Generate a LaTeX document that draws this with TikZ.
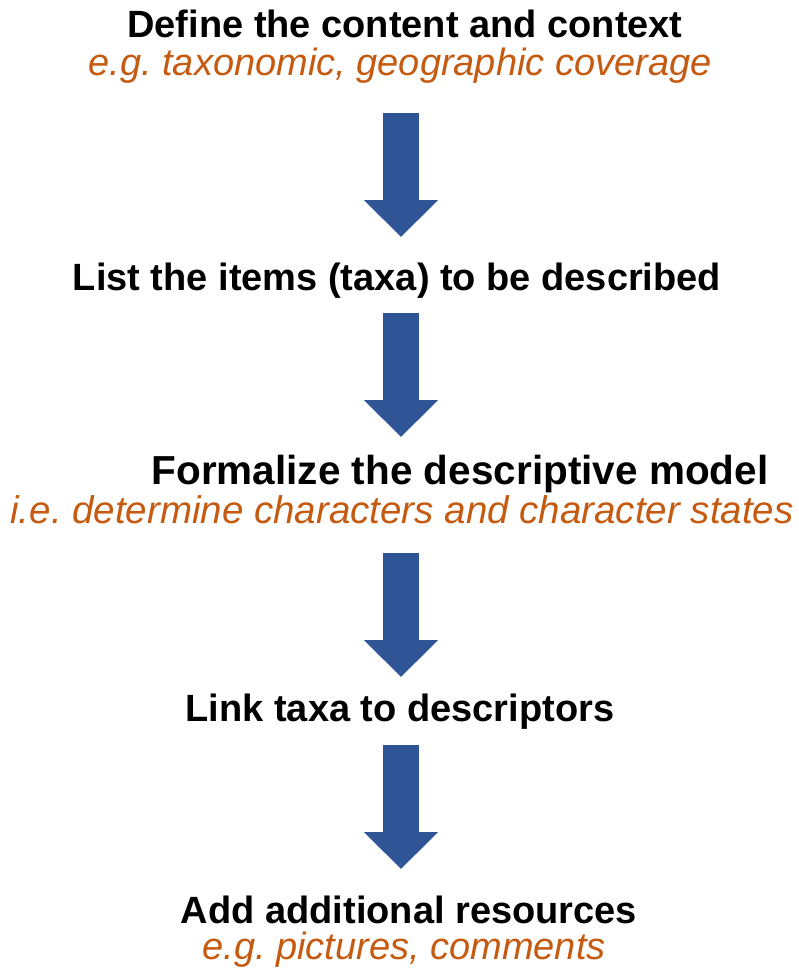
\documentclass[tikz,border=0pt]{standalone}
\usepackage{fontspec}
\setmainfont{Liberation Sans}
\usetikzlibrary{arrows.meta}
\definecolor{arrowblue}{RGB}{47,85,151}
\definecolor{noteorange}{RGB}{197,90,17}
\frenchspacing
\tikzset{
    steptext/.style={anchor=base, inner sep=0pt, font=\fontsize{38}{44}\selectfont\bfseries},
    notetext/.style={anchor=base, inner sep=0pt, text=noteorange, font=\fontsize{38}{44}\selectfont\itshape},
    blockarrow/.style={draw=arrowblue, line width=36pt, -{Triangle[width=72pt,length=37pt]}},
}
\begin{document}
\begin{tikzpicture}[x=1pt, y=-1pt]
                \useasboundingbox (0,0) rectangle (798,971);
                \begin{scope}[
                        every node/.style={steptext},
                    ]

                    \node (define) at (405,38) {Define the content and context};
                    \node[notetext] (coverage) at (400,76) {e.g. taxonomic, geographic coverage};
                    \node (list) at (397,290) {List the items (taxa) to be described};
                    \node[font=\fontsize{40.5}{46}\selectfont\bfseries] (formalize) at (460,484) {Formalize the descriptive model};
                    \node[notetext, font=\fontsize{38.5}{44}\selectfont\itshape] (characters) at (402,523) {i.e. determine characters and character states};
                    \node (link) at (400,721) {Link taxa to descriptors};
                    \node (add) at (409,923) {Add additional resources};
                    \node[notetext] (pictures) at (404,959) {e.g. pictures, comments};

                    \coordinate (s1) at (401,113);
                    \coordinate (e1) at (401,237);
                    \coordinate (s2) at (401,313);
                    \coordinate (e2) at (401,437);
                    \coordinate (s3) at (401,553);
                    \coordinate (e3) at (401,677);
                    \coordinate (s4) at (401,745);
                    \coordinate (e4) at (401,869);

                    \draw[blockarrow] (s1) -- (e1);
                    \draw[blockarrow] (s2) -- (e2);
                    \draw[blockarrow] (s3) -- (e3);
                    \draw[blockarrow] (s4) -- (e4);
                \end{scope}
            \end{tikzpicture}
\end{document}
